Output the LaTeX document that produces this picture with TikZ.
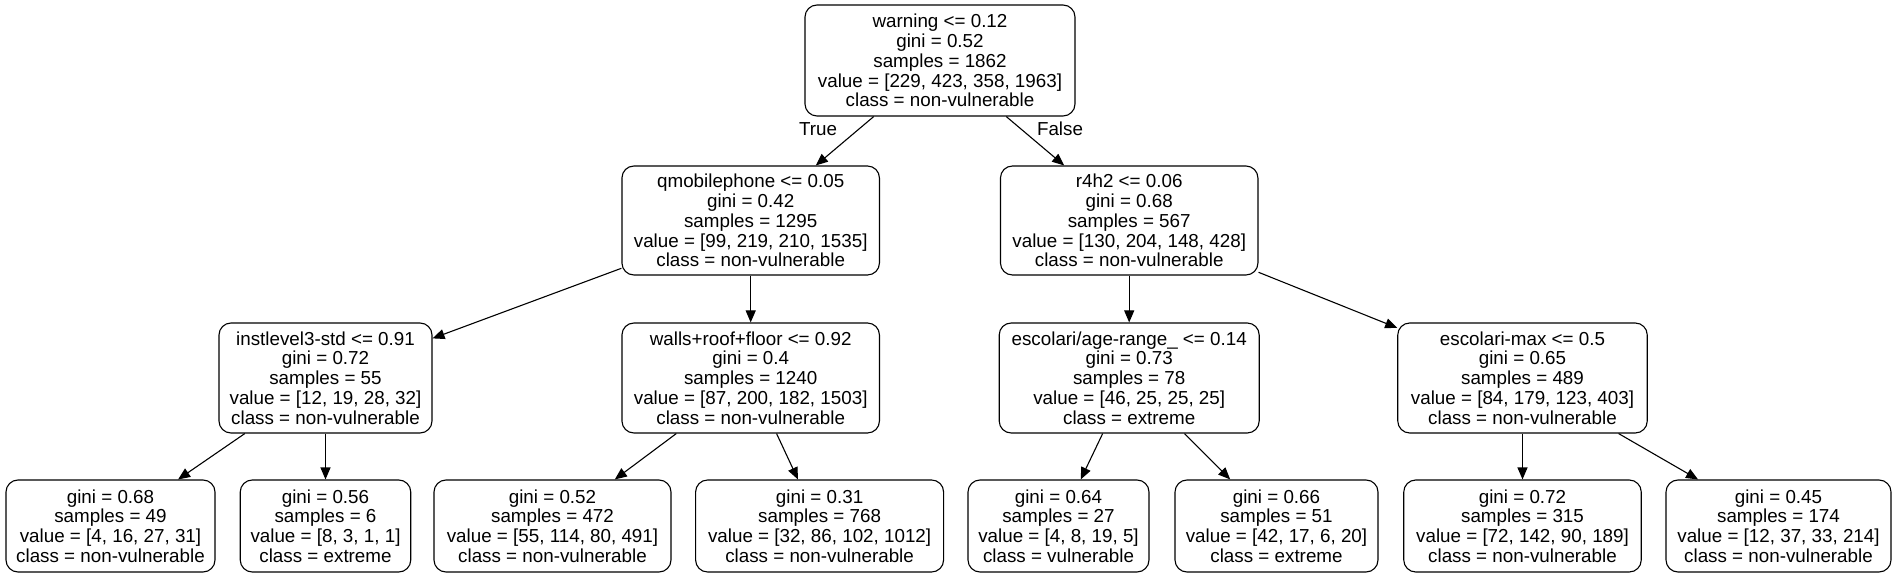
\documentclass[tikz,border=0pt]{standalone}
\usepackage{fontspec}
\setmainfont{Liberation Sans}
\usetikzlibrary{arrows.meta}
\begin{document}
\begin{tikzpicture}[x=0.5pt,y=-0.5pt,
  tn/.style={draw, rounded corners=6pt, align=center, inner sep=0pt,
    font=\fontsize{9.4pt}{9.9pt}\selectfont, line width=0.55pt},
  ed/.style={-{Triangle[length=6pt,width=5pt]}, line width=0.55pt},
  lbl/.style={font=\fontsize{9.4pt}{9.9pt}\selectfont}]
\useasboundingbox (0,0) rectangle (1897,577);
\node[tn, minimum width=135pt, minimum height=55.5pt] (root) at (940,60.5)
  {warning <= 0.12\\gini = 0.52\\samples = 1862\\value = [229, 423, 358, 1963]\\class = non-vulnerable};
\node[tn, minimum width=128.75pt, minimum height=54.5pt] (qm) at (750.7,220.5)
  {qmobilephone <= 0.05\\gini = 0.42\\samples = 1295\\value = [99, 219, 210, 1535]\\class = non-vulnerable};
\node[tn, minimum width=128.75pt, minimum height=54.5pt] (r4) at (1129.2,220.5)
  {r4h2 <= 0.06\\gini = 0.68\\samples = 567\\value = [130, 204, 148, 428]\\class = non-vulnerable};
\node[tn, minimum width=106.5pt, minimum height=55pt] (il) at (325.5,378)
  {instlevel3-std <= 0.91\\gini = 0.72\\samples = 55\\value = [12, 19, 28, 32]\\class = non-vulnerable};
\node[tn, minimum width=128.75pt, minimum height=55pt] (wa) at (750.7,378)
  {walls+roof+floor <= 0.92\\gini = 0.4\\samples = 1240\\value = [87, 200, 182, 1503]\\class = non-vulnerable};
\node[tn, minimum width=130pt, minimum height=55pt] (ea) at (1129.2,378)
  {escolari/age-range\_ <= 0.14\\gini = 0.73\\samples = 78\\value = [46, 25, 25, 25]\\class = extreme};
\node[tn, minimum width=124.75pt, minimum height=55pt] (em) at (1522.5,378)
  {escolari-max <= 0.5\\gini = 0.65\\samples = 489\\value = [84, 179, 123, 403]\\class = non-vulnerable};
\node[tn, minimum width=104.5pt, minimum height=46pt] (l1) at (110.5,526)
  {gini = 0.68\\samples = 49\\value = [4, 16, 27, 31]\\class = non-vulnerable};
\node[tn, minimum width=85.25pt, minimum height=46pt] (l2) at (325.5,526)
  {gini = 0.56\\samples = 6\\value = [8, 3, 1, 1]\\class = extreme};
\node[tn, minimum width=118.5pt, minimum height=46pt] (l3) at (552.5,526)
  {gini = 0.52\\samples = 472\\value = [55, 114, 80, 491]\\class = non-vulnerable};
\node[tn, minimum width=124pt, minimum height=46pt] (l4) at (819.6,526)
  {gini = 0.31\\samples = 768\\value = [32, 86, 102, 1012]\\class = non-vulnerable};
\node[tn, minimum width=90.5pt, minimum height=46pt] (l5) at (1058.5,526)
  {gini = 0.64\\samples = 27\\value = [4, 8, 19, 5]\\class = vulnerable};
\node[tn, minimum width=101.5pt, minimum height=46pt] (l6) at (1276.5,526)
  {gini = 0.66\\samples = 51\\value = [42, 17, 6, 20]\\class = extreme};
\node[tn, minimum width=118.75pt, minimum height=46pt] (l7) at (1522.5,526)
  {gini = 0.72\\samples = 315\\value = [72, 142, 90, 189]\\class = non-vulnerable};
\node[tn, minimum width=112.5pt, minimum height=46pt] (l8) at (1778.5,526)
  {gini = 0.45\\samples = 174\\value = [12, 37, 33, 214]\\class = non-vulnerable};
\draw[ed] (root) -- (qm);
\draw[ed] (root) -- (r4);
\draw[ed] (qm) -- (il);
\draw[ed] (qm) -- (wa);
\draw[ed] (r4) -- (ea);
\draw[ed] (r4) -- (em);
\draw[ed] (il) -- (l1);
\draw[ed] (il) -- (l2);
\draw[ed] (wa) -- (l3);
\draw[ed] (wa) -- (l4);
\draw[ed] (ea) -- (l5);
\draw[ed] (ea) -- (l6);
\draw[ed] (em) -- (l7);
\draw[ed] (em) -- (l8);
\node[lbl] (t) at (818,129) {True};
\node[lbl] (f) at (1060,129) {False};
\end{tikzpicture}
\end{document}
